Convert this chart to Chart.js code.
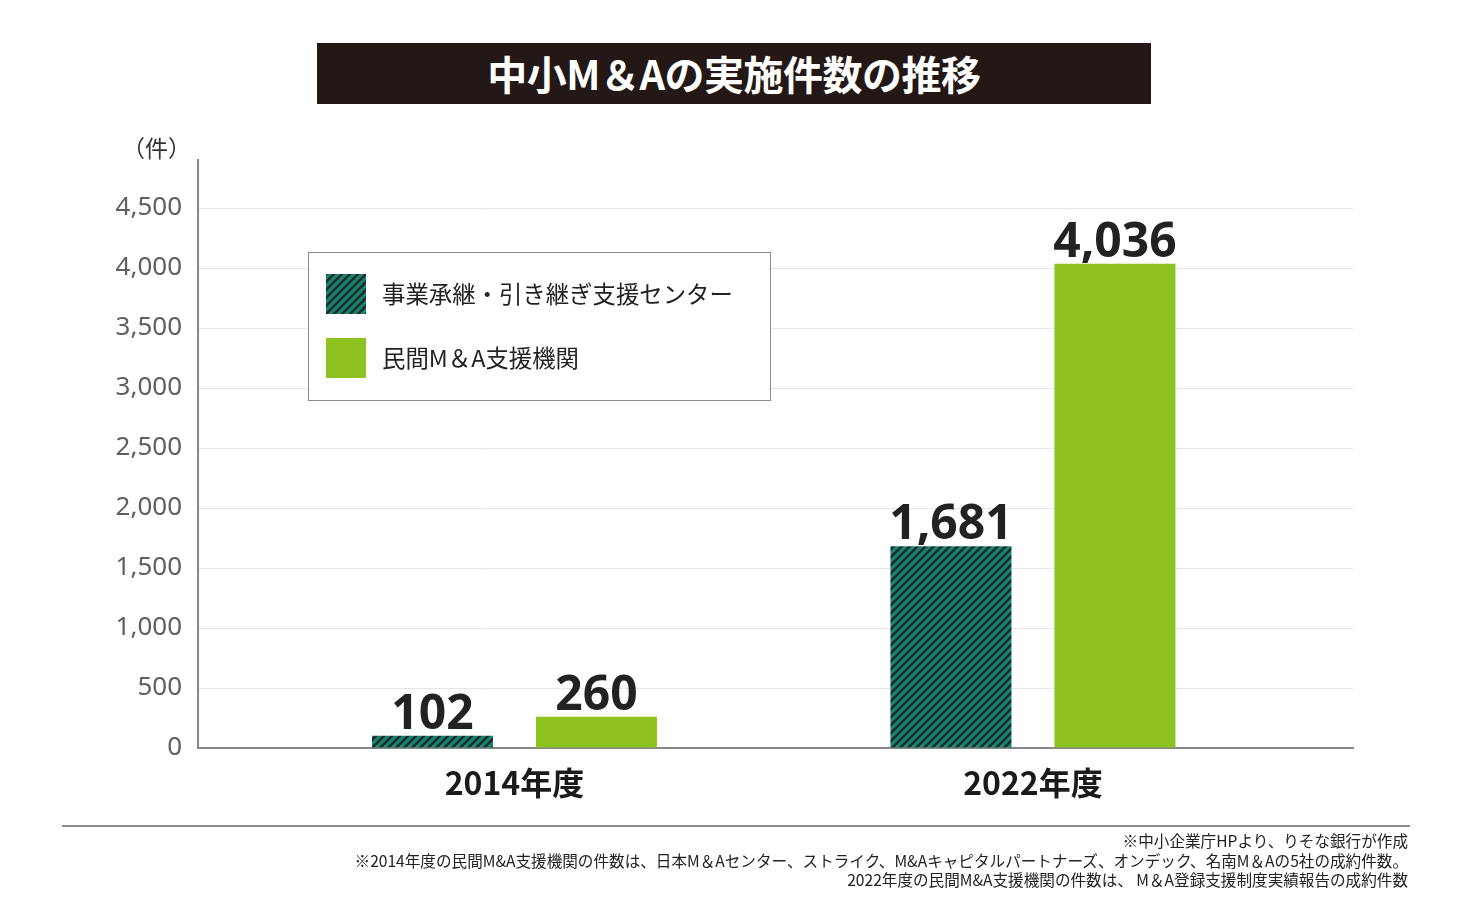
<!DOCTYPE html>
<html lang="ja">
<head>
<meta charset="utf-8">
<script src="https://cdn.jsdelivr.net/npm/chart.js@4.4.1/dist/chart.umd.min.js"></script>
<style>
  html, body { margin: 0; padding: 0; background: #fff; }
  body { width: 1468px; height: 900px; position: relative; overflow: hidden;
         font-family: "Noto Sans CJK JP", "Noto Sans", sans-serif; }
  #wrap { position: absolute; left: 0; top: 0; width: 1468px; height: 900px; }
  #titleBox { position: absolute; left: 317px; top: 43px; width: 834px; height: 61px;
              background: #231815; color: #fff; font-weight: 700; font-size: 40px;
              line-height: 61px; text-align: center; letter-spacing: -0.5px; }
  #unit { position: absolute; left: 122px; top: 130px; font-size: 23px; color: #333; }
  #rule { position: absolute; left: 62px; top: 825px; width: 1348px; height: 0;
          border-top: 2px solid #8a8a8a; }
  #notes { position: absolute; right: 60px; top: 831px; text-align: right;
           font-size: 15.6px; line-height: 19.5px; color: #222; }
</style>
</head>
<body>
<div id="wrap"><canvas id="chart" width="1468" height="900"></canvas></div>
<div id="titleBox">中小M＆Aの実施件数の推移</div>
<div id="unit">（件）</div>
<div id="rule"></div>
<div id="notes">
  <div>※中小企業庁HPより、りそな銀行が作成</div>
  <div>※2014年度の民間M&amp;A支援機関の件数は、日本M＆Aセンター、ストライク、M&amp;Aキャピタルパートナーズ、オンデック、名南M＆Aの5社の成約件数。</div>
  <div>2022年度の民間M&amp;A支援機関の件数は、 M＆A登録支援制度実績報告の成約件数</div>
</div>
<script>
const categories = ["2014年度", "2022年度"];
const seriesNames = ["事業承継・引き継ぎ支援センター", "民間M＆A支援機関"];
const supportCenterValues = [102, 1681];
const privateAgencyValues = [260, 4036];
const yTickValues = [0, 500, 1000, 1500, 2000, 2500, 3000, 3500, 4000, 4500];

// diagonal hatch for the support-center bars
function makeHatch() {
  const s = 8;
  const c = document.createElement("canvas");
  c.width = s;
  c.height = s;
  const g = c.getContext("2d");
  g.fillStyle = "#178670";
  g.fillRect(0, 0, s, s);
  g.strokeStyle = "#1c2a2b";
  g.lineWidth = 2.6;
  g.beginPath();
  g.moveTo(0, s); g.lineTo(s, 0);
  g.moveTo(-s / 2, s / 2); g.lineTo(s / 2, -s / 2);
  g.moveTo(s / 2, s * 1.5); g.lineTo(s * 1.5, s / 2);
  g.stroke();
  return document.getElementById("chart").getContext("2d").createPattern(c, "repeat");
}

const hatch = makeHatch();
const green = "#8dc21f";

const toPoints = (vals) => vals.map((v, i) => ({ x: i, y: v }));

// value labels above each bar
const valueLabels = {
  id: "valueLabels",
  afterDatasetsDraw(chart) {
    const ctx = chart.ctx;
    ctx.save();
    ctx.font = "bold 48px 'Noto Sans', sans-serif";
    ctx.fillStyle = "#222";
    ctx.textAlign = "center";
    ctx.textBaseline = "alphabetic";
    chart.data.datasets.forEach((ds, di) => {
      chart.getDatasetMeta(di).data.forEach((bar, i) => {
        ctx.fillText(ds.data[i].y.toLocaleString("en-US"), bar.x, bar.y - 7);
      });
    });
    ctx.restore();
  },
};

// boxed legend sitting inside the plot
const boxLegend = {
  id: "boxLegend",
  afterDraw(chart) {
    const ctx = chart.ctx;
    ctx.save();
    ctx.fillStyle = "#fff";
    ctx.fillRect(308, 252, 462, 148);
    ctx.strokeStyle = "#888";
    ctx.lineWidth = 1;
    ctx.strokeRect(308.5, 252.5, 462, 148);
    ctx.font = "23.4px 'Noto Sans CJK JP', sans-serif";
    ctx.textBaseline = "middle";
    ctx.textAlign = "left";
    chart.data.datasets.forEach((ds, i) => {
      const top = 274 + i * 64;
      ctx.fillStyle = ds.backgroundColor;
      ctx.fillRect(326, top, 40, 40);
      ctx.fillStyle = "#222";
      ctx.fillText(ds.label, 382, top + 20);
    });
    ctx.restore();
  },
};

new Chart(document.getElementById("chart"), {
  type: "bar",
  data: {
    datasets: [
      {
        label: seriesNames[0],
        data: toPoints(supportCenterValues),
        backgroundColor: hatch,
      },
      {
        label: seriesNames[1],
        data: toPoints(privateAgencyValues),
        backgroundColor: green,
      },
    ],
  },
  options: {
    responsive: false,
    animation: false,
    layout: { padding: { left: 0, right: 115, top: 160, bottom: 0 } },
    datasets: {
      bar: { categoryPercentage: 0.6326, barPercentage: 0.7378 },
    },
    scales: {
      x: {
        type: "linear",
        offset: false,
        min: -0.6104,
        max: 1.6173,
        afterBuildTicks: (scale) => {
          scale.ticks = categories.map((c, i) => ({ value: i }));
        },
        afterFit: (scale) => { scale.height = 152; },
        grid: { display: false, drawTicks: false, offset: false },
        border: { display: true, color: "#888", width: 2 },
        ticks: {
          padding: 16,
          color: "#1a1a1a",
          font: { family: "'Noto Sans CJK JP', sans-serif", size: 32, weight: "bold" },
          callback: (v) => categories[v],
        },
      },
      y: {
        min: 0,
        max: 4900,
        afterBuildTicks: (scale) => {
          scale.ticks = yTickValues.map((v) => ({ value: v }));
        },
        afterFit: (scale) => { scale.width = 198; },
        grid: { color: "#e6e6e6", lineWidth: 1, drawTicks: false },
        border: { display: true, color: "#888", width: 2 },
        ticks: {
          padding: 16,
          color: "#5f5f5f",
          font: { family: "'Noto Sans', sans-serif", size: 26 },
          callback: (v) => v.toLocaleString("en-US"),
        },
      },
    },
    plugins: {
      legend: { display: false },
      tooltip: { enabled: false },
    },
  },
  plugins: [valueLabels, boxLegend],
});
</script>
</body>
</html>
